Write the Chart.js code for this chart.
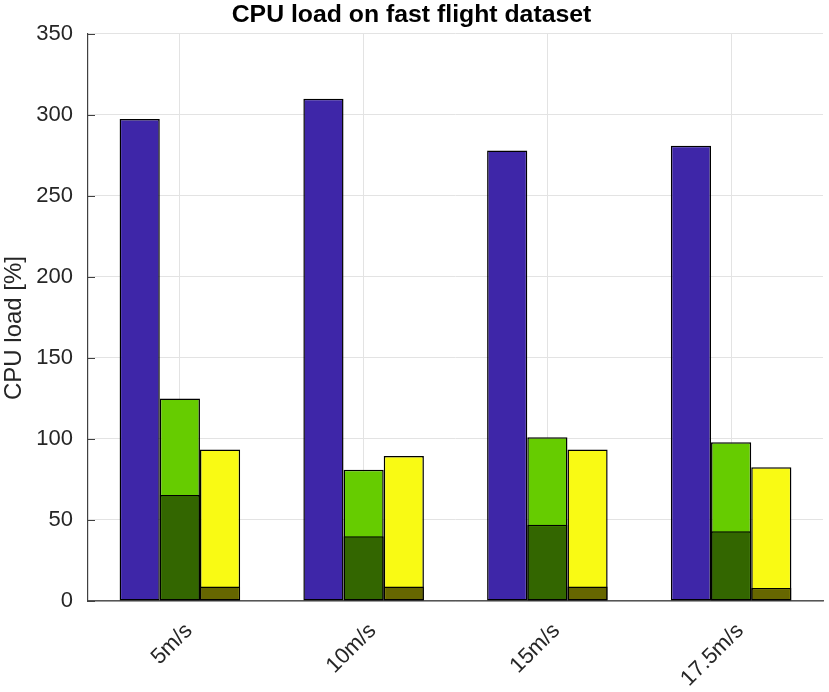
<!DOCTYPE html>
<html>
<head>
<meta charset="utf-8">
<script src="https://cdn.jsdelivr.net/npm/chart.js@4"></script>
<style>
  html, body { margin: 0; padding: 0; background: #fff; }
  #wrap { width: 829px; height: 692px; }
</style>
</head>
<body>
<div id="wrap"><canvas id="mychart" width="829" height="692"></canvas></div>
<script>
const categories = ['5m/s', '10m/s', '15m/s', '17.5m/s'];
const loadA = [297.5, 310, 278, 281];
const loadBTotal = [125, 81, 101, 98];
const loadBBase = [65.5, 40, 47, 43];
const loadCTotal = [93.5, 89.5, 93.5, 82.5];
const loadCBase = [9, 9, 9, 8];
const yTicks = [0, 50, 100, 150, 200, 250, 300, 350];
const yTitle = 'CPU load [%]';

const FONT = "'Liberation Sans', Arial, sans-serif";
const TEXT = '#262626';

const bar = (data, color, stack) => ({
    data: data,
    backgroundColor: color,
    borderColor: '#000',
    borderWidth: 1.5,
    borderSkipped: false,
    stack: stack,
    barPercentage: 1,
    categoryPercentage: 0.656,
});

// inward tick marks on the y axis and the rotated axis title
const axisExtras = {
    id: 'axisExtras',
    afterDraw(chart) {
        const c = chart.ctx;
        const y = chart.scales.y;
        c.save();
        c.strokeStyle = '#404040';
        c.lineWidth = 1;
        y.ticks.forEach(t => {
            const py = Math.round(y.getPixelForValue(t.value)) + 0.5;
            c.beginPath();
            c.moveTo(y.right, py);
            c.lineTo(y.right + 7, py);
            c.stroke();
        });
        c.translate(14, 328);
        c.rotate(-Math.PI / 2);
        c.fillStyle = TEXT;
        c.font = '24px ' + FONT;
        c.textAlign = 'center';
        c.textBaseline = 'middle';
        c.fillText(yTitle, 0, 0);
        c.restore();
    }
};

const ctx = document.getElementById('mychart');

new Chart(ctx, {
    type: 'bar',
    data: {
        labels: categories,
        datasets: [
            bar(loadA, 'rgb(62,38,168)', 'a'),
            bar(loadBBase, 'rgb(51,102,0)', 'b'),
            bar(loadBTotal, 'rgb(102,204,0)', 'b'),
            bar(loadCBase, 'rgb(102,102,0)', 'c'),
            bar(loadCTotal, 'rgb(249,250,20)', 'c'),
        ]
    },
    plugins: [axisExtras],
    options: {
        responsive: false,
        animation: false,
        layout: { padding: { left: 0, right: 6, top: 0, bottom: 0 } },
        plugins: {
            legend: { display: false },
            tooltip: { enabled: false },
            title: {
                display: true,
                text: 'CPU load on fast flight dataset',
                color: '#000',
                font: { family: FONT, size: 24.8, weight: 'bold', lineHeight: 1.2 },
                padding: { top: 0, bottom: 4.2 }
            }
        },
        scales: {
            x: {
                stacked: true,
                offset: true,
                grid: { offset: false, color: '#e3e3e3', lineWidth: 1, tickLength: 0, drawTicks: false },
                border: { color: '#555', width: 1.5 },
                ticks: {
                    color: TEXT,
                    font: { family: FONT, size: 22 },
                    minRotation: 45,
                    maxRotation: 45,
                    padding: 17,
                    labelOffset: 9
                },
                afterFit: (s) => { s.height = 91; }
            },
            y: {
                stacked: false,
                min: 0,
                max: 350,
                afterBuildTicks: (s) => { s.ticks = yTicks.map(v => ({ value: v })); },
                grid: { color: '#e3e3e3', lineWidth: 1, tickLength: 0, drawTicks: false },
                border: { color: '#404040', width: 1.2 },
                ticks: {
                    color: TEXT,
                    font: { family: FONT, size: 22 },
                    padding: 15
                },
                afterFit: (s) => { s.width = 88; }
            }
        }
    }
});
</script>
</body>
</html>
